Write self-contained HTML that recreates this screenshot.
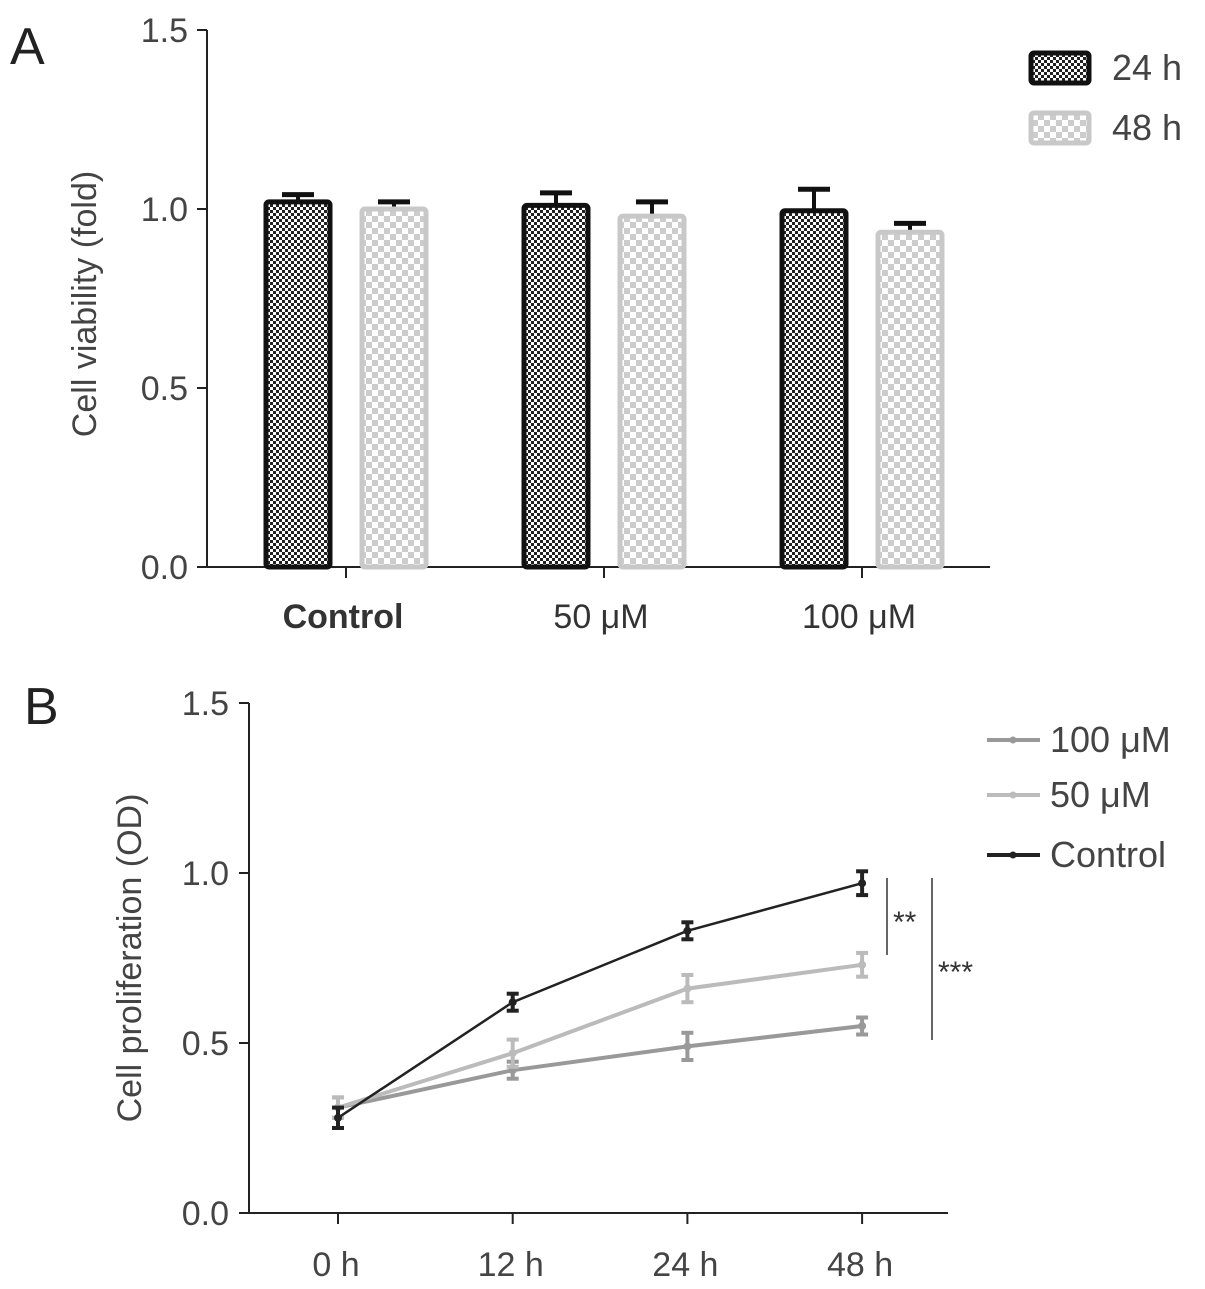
<!DOCTYPE html>
<html><head><meta charset="utf-8"><style>
html,body{margin:0;padding:0;background:#fff;}
svg{display:block;font-family:"Liberation Sans",sans-serif;}
</style></head><body>
<svg id="chart" width="1205" height="1289" viewBox="0 0 1205 1289">
<defs>
<pattern id="dark" width="6" height="6" patternUnits="userSpaceOnUse">
<rect width="6" height="6" fill="#fff"/><rect width="3" height="3" fill="#222"/><rect x="3" y="3" width="3" height="3" fill="#222"/>
</pattern>
<pattern id="light" width="12" height="12" patternUnits="userSpaceOnUse">
<rect width="12" height="12" fill="#fff"/><rect width="6" height="6" fill="#ccc"/><rect x="6" y="6" width="6" height="6" fill="#ccc"/>
</pattern>
</defs>
<g id="pa"></g>
<g id="pb"></g>
</svg>
<script>
// Panel A data
const groupsA = ["Control","50 \u03bcM","100 \u03bcM"];
const viab24 = [1.02, 1.01, 0.995];
const err24 = [0.02, 0.035, 0.06];
const viab48 = [1.0, 0.98, 0.935];
const err48 = [0.02, 0.04, 0.025];
const ticksA = [0.0, 0.5, 1.0, 1.5];
// Panel B data
const timesB = ["0 h","12 h","24 h","48 h"];
const ctrl = [0.28, 0.62, 0.83, 0.97];
const ctrlErr = [0.03, 0.025, 0.025, 0.035];
const m50 = [0.31, 0.47, 0.66, 0.73];
const m50Err = [0.03, 0.04, 0.04, 0.035];
const m100 = [0.31, 0.42, 0.49, 0.55];
const m100Err = [0.03, 0.025, 0.04, 0.025];
const ticksB = [0.0, 0.5, 1.0, 1.5];

const NS="http://www.w3.org/2000/svg";
function mk(parent,tag,attrs,text){const e=document.createElementNS(NS,tag);for(const k in attrs)e.setAttribute(k,attrs[k]);if(text!==undefined)e.textContent=text;parent.appendChild(e);return e;}
const TC='#444';

// ---------- Panel A ----------
const pa=document.getElementById('pa');
const yA=v=>567-v*(537/1.5);
const xA=i=>346+i*258;
let t=mk(pa,'text',{x:10,y:64,'font-size':52,fill:'#222'},'A');


let l=mk(pa,'line',{x1:207,y1:30,x2:207,y2:567,stroke:'#222','stroke-width':2});


l=mk(pa,'line',{x1:206,y1:567,x2:990,y2:567,stroke:'#222','stroke-width':2});


ticksA.forEach(v=>{
  mk(pa,'line',{x1:197,y1:yA(v),x2:207,y2:yA(v),stroke:'#222','stroke-width':2});
  const tt=mk(pa,'text',{x:188,y:yA(v)+12,'font-size':34,'text-anchor':'end',fill:TC},v.toFixed(1));
  
  
});
t=mk(pa,'text',{x:0,y:0,'font-size':34,'text-anchor':'middle',fill:TC,transform:'translate(96,304) rotate(-90)'},'Cell viability (fold)');


groupsA.forEach((g,i)=>{
  const cx=xA(i);
  mk(pa,'line',{x1:cx,y1:567,x2:cx,y2:578,stroke:'#222','stroke-width':2});
  const tt=mk(pa,'text',{x:cx-3,y:628,'font-size':34,'text-anchor':'middle',fill:'#333','font-weight':i==0?'bold':'normal'},g);
  
  
  [[viab24,err24,-48,'url(#dark)','#111'],[viab48,err48,48,'url(#light)','#c8c8c8']].forEach(([vals,errs,off,fill,st])=>{
    const bx=cx+off;const top=yA(vals[i]);
    mk(pa,'line',{x1:bx,y1:top,x2:bx,y2:yA(vals[i]+errs[i]),stroke:'#111','stroke-width':4});
    mk(pa,'line',{x1:bx-16,y1:yA(vals[i]+errs[i]),x2:bx+16,y2:yA(vals[i]+errs[i]),stroke:'#111','stroke-width':5});
    const r=mk(pa,'rect',{x:bx-32,y:top,width:64,height:567-top,fill:fill,stroke:st,'stroke-width':5,rx:3});
    
    
  });
});
[['24 h','url(#dark)','#111',68],['48 h','url(#light)','#c8c8c8',128]].forEach(([lab,f,s,y])=>{
  const r=mk(pa,'rect',{x:1031,y:y-15,width:58,height:30,fill:f,stroke:s,'stroke-width':5,rx:3});
  
  
  const tt=mk(pa,'text',{x:1112,y:y+12,'font-size':36,fill:TC},lab);
  
  
});

// ---------- Panel B ----------
const pb=document.getElementById('pb');
const yB=v=>1213-v*340;
const xB=i=>338+i*174.7;
t=mk(pb,'text',{x:24,y:724,'font-size':52,fill:'#222'},'B');


l=mk(pb,'line',{x1:249,y1:703,x2:249,y2:1213,stroke:'#222','stroke-width':2});


l=mk(pb,'line',{x1:248,y1:1213,x2:948,y2:1213,stroke:'#222','stroke-width':2});


ticksB.forEach(v=>{
  mk(pb,'line',{x1:239,y1:yB(v),x2:249,y2:yB(v),stroke:'#222','stroke-width':2});
  const tt=mk(pb,'text',{x:229,y:yB(v)+12,'font-size':34,'text-anchor':'end',fill:TC},v.toFixed(1));
  
  
});
t=mk(pb,'text',{x:0,y:0,'font-size':34,'text-anchor':'middle',fill:TC,transform:'translate(141,958) rotate(-90)'},'Cell proliferation (OD)');


timesB.forEach((lab,i)=>{
  mk(pb,'line',{x1:xB(i),y1:1213,x2:xB(i),y2:1224,stroke:'#222','stroke-width':2});
  const tt=mk(pb,'text',{x:xB(i)-2,y:1276,'font-size':34,'text-anchor':'middle',fill:TC},lab);
  
  
});
[[m100,m100Err,'#999',4,'series-100uM'],[m50,m50Err,'#bbb',4,'series-50uM'],[ctrl,ctrlErr,'#222',2.5,'series-control']].forEach(([vals,errs,c,w,name])=>{
  const p=mk(pb,'polyline',{points:vals.map((v,i)=>xB(i)+','+yB(v)).join(' '),fill:'none',stroke:c,'stroke-width':w});
  
  
  vals.forEach((v,i)=>{
    mk(pb,'line',{x1:xB(i),y1:yB(v+errs[i]),x2:xB(i),y2:yB(v-errs[i]),stroke:c,'stroke-width':4});
    mk(pb,'line',{x1:xB(i)-6,y1:yB(v+errs[i]),x2:xB(i)+6,y2:yB(v+errs[i]),stroke:c,'stroke-width':4});
    mk(pb,'line',{x1:xB(i)-6,y1:yB(v-errs[i]),x2:xB(i)+6,y2:yB(v-errs[i]),stroke:c,'stroke-width':4});
    const pt=mk(pb,'circle',{cx:xB(i),cy:yB(v),r:4,fill:c});
    
    
  });
});
l=mk(pb,'line',{x1:887,y1:878,x2:887,y2:955,stroke:'#333','stroke-width':1.5});


t=mk(pb,'text',{x:893,y:932,'font-size':30,fill:'#333'},'**');


l=mk(pb,'line',{x1:932,y1:878,x2:932,y2:1040,stroke:'#333','stroke-width':1.5});


t=mk(pb,'text',{x:938,y:982,'font-size':30,fill:'#333'},'***');


[['100 \u03bcM','#999',740],['50 \u03bcM','#bbb',795],['Control','#222',855]].forEach(([lab,c,y])=>{
  mk(pb,'line',{x1:987,y1:y,x2:1040,y2:y,stroke:c,'stroke-width':4});
  mk(pb,'circle',{cx:1013,cy:y,r:3.5,fill:c});
  const tt=mk(pb,'text',{x:1050,y:y+12,'font-size':36,fill:TC},lab);
  
  
});
</script>
</body></html>
